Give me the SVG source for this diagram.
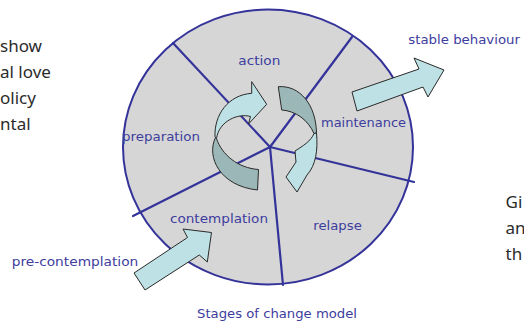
<svg xmlns="http://www.w3.org/2000/svg" width="524" height="322" viewBox="0 0 524 322">
<style>
.lbl{font-family:"DejaVu Sans",sans-serif;font-size:13px;fill:#3d3d9e}
.side{font-family:"Noto Sans","Open Sans",sans-serif;font-size:17px;fill:#2b2b2b}
.spoke{stroke:#33339a;stroke-width:2.2;fill:none;stroke-linecap:round}
.light{fill:#bde1e5;stroke:#2a2a2a;stroke-width:1;stroke-linejoin:round}
.dark{fill:#9bb7b7;stroke:#2a2a2a;stroke-width:1;stroke-linejoin:round}
</style>
<rect width="524" height="322" fill="#ffffff"/>
<g id="side-text">
<text class="side" x="0" y="52">show</text>
<text class="side" x="0" y="78">al love</text>
<text class="side" x="0" y="104">olicy</text>
<text class="side" x="0" y="130">ntal</text>
<text class="side" x="505.5" y="208">Gi</text>
<text class="side" x="505.5" y="234">an</text>
<text class="side" x="505.5" y="260">th</text>
</g>
<g id="wheel">
<ellipse cx="268" cy="147" rx="145" ry="137.5" fill="#d6d6d6" stroke="#33339a" stroke-width="2"/>
</g>
<g id="connectors">
<line class="spoke" x1="270" y1="147" x2="173" y2="43"/>
<line class="spoke" x1="270" y1="147" x2="352" y2="37"/>
<line class="spoke" x1="270" y1="147" x2="414" y2="182"/>
<line class="spoke" x1="270" y1="147" x2="283" y2="285"/>
<line class="spoke" x1="270" y1="147" x2="133" y2="216"/>
</g>
<g id="action"><text class="lbl" x="238.3" y="65" textLength="42" lengthAdjust="spacingAndGlyphs">action</text></g>
<g id="preparation"><text class="lbl" x="122" y="140.7" textLength="78" lengthAdjust="spacingAndGlyphs">preparation</text></g>
<g id="maintenance"><text class="lbl" x="321" y="127.3" textLength="85" lengthAdjust="spacingAndGlyphs">maintenance</text></g>
<g id="contemplation"><text class="lbl" x="170" y="223.3" textLength="98" lengthAdjust="spacingAndGlyphs">contemplation</text></g>
<g id="relapse"><text class="lbl" x="313.3" y="230" textLength="48.5" lengthAdjust="spacingAndGlyphs">relapse</text></g>
<g id="stable-behaviour"><text class="lbl" x="408.3" y="44" textLength="111.7" lengthAdjust="spacingAndGlyphs">stable behaviour</text></g>
<g id="pre-contemplation"><text class="lbl" x="11.7" y="266" textLength="126.6" lengthAdjust="spacingAndGlyphs">pre-contemplation</text></g>
<g id="title"><text class="lbl" x="197" y="318.3" textLength="160" lengthAdjust="spacingAndGlyphs">Stages of change model</text></g>
<g id="arrows">
<polygon class="light" points="352,92 419,69 414,58 444,70 428,97 423,87 357,111"/>
<polygon class="light" points="134,273 187.5,237.5 183,229 211.5,232.5 207.3,262 199.3,255 145,290"/>
<path class="dark" d="M215.5,137.5 C206,157 220,186 257.5,190 L258.5,169.5 C238,168 222,155 216.5,138.5 Z"/>
<path class="light" d="M215,137 C214,115 228,95 251.7,93.3 L251.7,81.7 L266.7,104.3 L248.5,124 L250.5,116.5 C238,113 219,121 216.5,138.5 Z"/>
<path class="dark" d="M278.3,86.7 C300,85 316,105 316.5,133 L314,133.5 C308,120 296,111 281.7,110 Z"/>
<path class="light" d="M316.5,133 C318,150 316,165 307,175 L297,192 L286,177 L296,162 L295,151 C303,146 311,141 314,133.5 Z"/>
</g>
</svg>
